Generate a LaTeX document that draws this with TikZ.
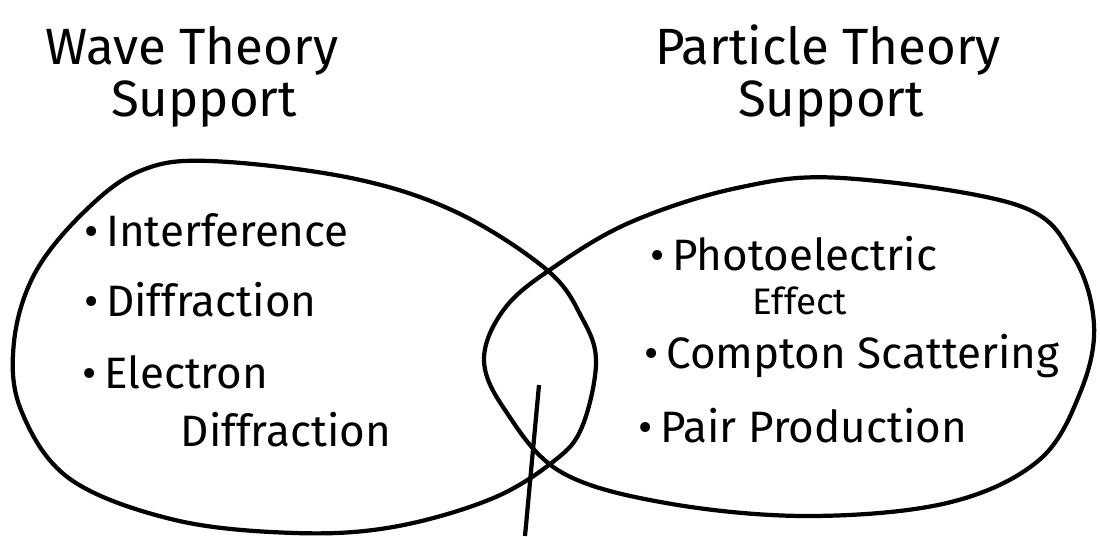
\documentclass[tikz,border=0pt]{standalone}
\usepackage{fontspec}
\setmainfont{Fira Sans}
\usepackage{tikz}
\usetikzlibrary{positioning}

\begin{document}
\begin{tikzpicture}[
    x=0.01cm, y=-0.01cm,
    outline/.style={line width=1.2pt, line join=round},
    title/.style={anchor=base, inner sep=0pt, font=\fontsize{14.5}{17}\selectfont},
    item/.style={anchor=base west, inner sep=0pt, font=\fontsize{12.5}{15}\selectfont}
]
    \useasboundingbox (0,0) rectangle (1100,536);

    % Wave set
    \draw[outline] plot[smooth cycle, tension=0.6] coordinates {
        (210,161) (351,178) (456,212) (547,270) (582,318) (596,362) (582,427)
        (554,461) (491,499) (393,527) (295,533) (175,520) (70,479) (21,410)
        (14,342) (35,273) (84,212) (140,171)};

    % Particle set
    \draw[outline] plot[smooth cycle, tension=0.6] coordinates {
        (842,178) (1017,205) (1073,256) (1094,325) (1080,393) (1038,461)
        (947,503) (807,516) (666,503) (561,472) (505,410) (484,359)
        (505,308) (554,267) (631,222) (737,188)};

    % Titles
    \node[title] (wave_t) at (192,64) {Wave Theory};
    \node[title] (wave_s) at (204,116) {Support};
    \node[title] (part_t) at (828,64) {Particle Theory};
    \node[title] (part_s) at (831,116) {Support};

    % Wave items
    \node[item] (w1) at (84,246) {\textbullet\,Interference};
    \node[item] (w2) at (84,316) {\textbullet\,Diffraction};
    \node[item] (w3) at (82,388) {\textbullet\,Electron};
    \node[item] (w4) at (180,446) {Diffraction};

    % Particle items
    \node[item] (p1) at (650,270) {\textbullet\,Photoelectric};
    \node[item, font=\fontsize{10.5}{12}\selectfont] (p2) at (752,314) {Effect};
    \node[item] (p3) at (644,368) {\textbullet\,Compton Scattering};
    \node[item] (p4) at (638,442) {\textbullet\,Pair Production};

    % Pointer to overlap
    \coordinate (ptr_top) at (539,385);
    \coordinate (ptr_end) at (525,536);
    \draw[outline] (ptr_top) -- (ptr_end);
\end{tikzpicture}
\end{document}
